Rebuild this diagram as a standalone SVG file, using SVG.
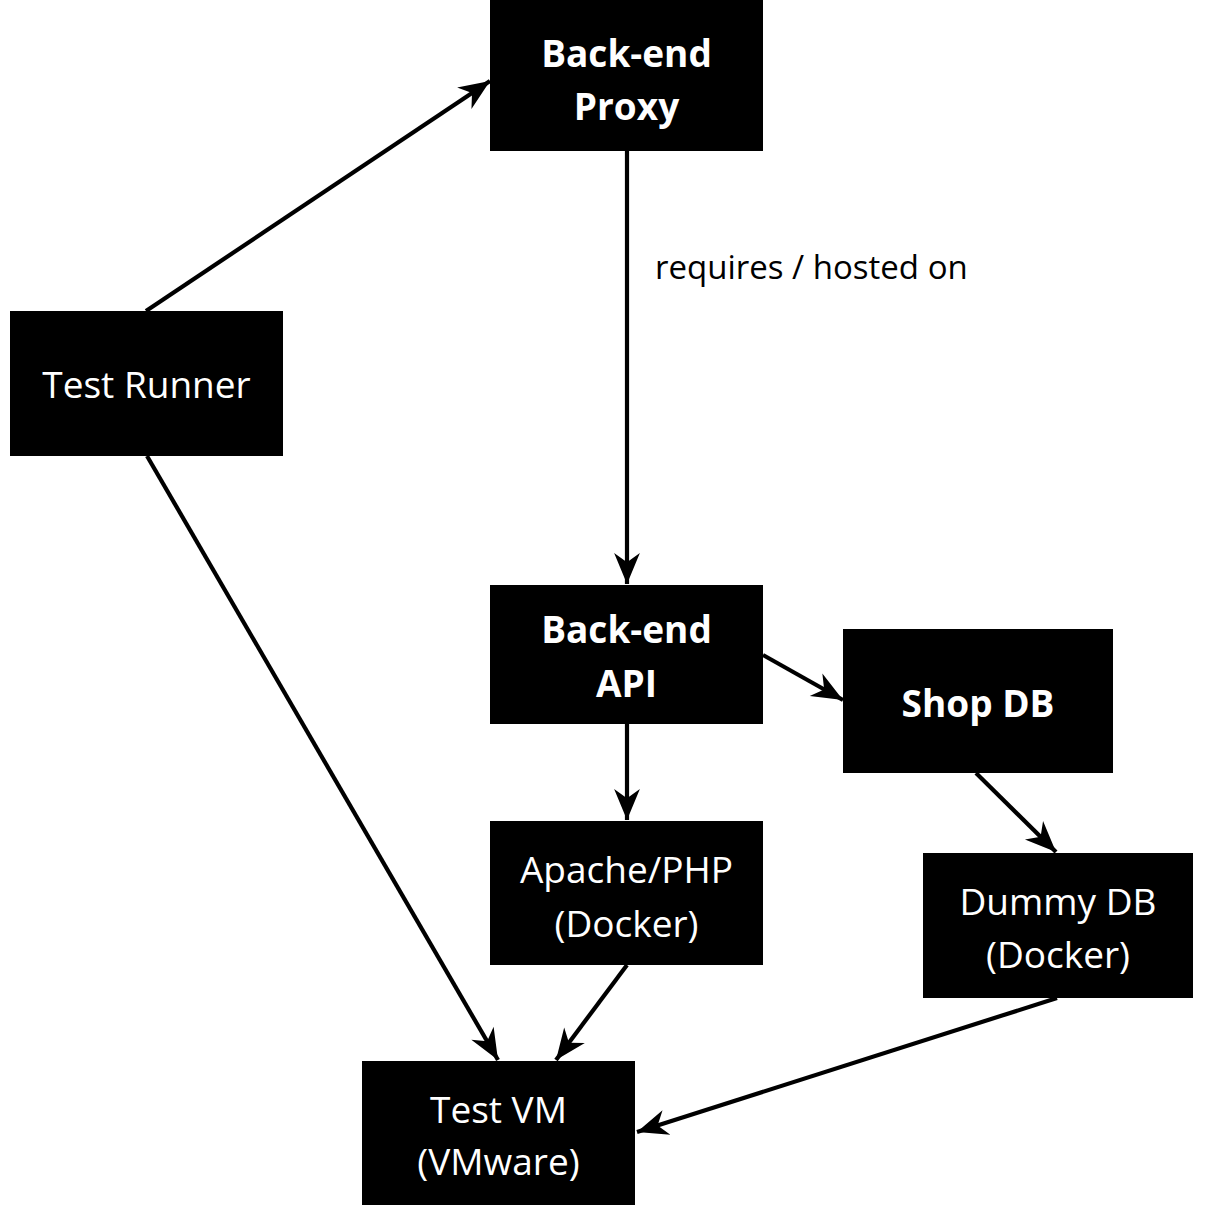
<svg xmlns="http://www.w3.org/2000/svg" width="1227" height="1205" viewBox="0 0 1227 1205">
<defs>
<style>
.box{fill:#000}
.t{font-family:"Open Sans","Liberation Sans",sans-serif;font-size:37px;fill:#fff;text-anchor:middle}
.b{font-weight:bold}
.lbl{font-family:"Open Sans","Liberation Sans",sans-serif;font-size:33px;fill:#000}
.c{stroke:#000;stroke-width:4.2;fill:none;marker-end:url(#ah)}
</style>
<marker id="ah" markerUnits="userSpaceOnUse" markerWidth="34" markerHeight="30" viewBox="-31 -14 33 28" refX="0" refY="0" orient="auto">
<path d="M0,0 L-30,-12.5 L-21,0 L-30,12.5 Z" fill="#000"/>
</marker>
</defs>
<rect width="1227" height="1205" fill="#fff"/>
<g id="connectors">
<line class="c" x1="146" y1="311" x2="490" y2="81"/>
<line class="c" x1="627" y1="151" x2="627" y2="584"/>
<line class="c" x1="763" y1="655" x2="843" y2="700"/>
<line class="c" x1="627" y1="724" x2="627" y2="820"/>
<line class="c" x1="976" y1="773" x2="1056" y2="852"/>
<line class="c" x1="147" y1="456" x2="498" y2="1060"/>
<line class="c" x1="627" y1="965" x2="556" y2="1060"/>
<line class="c" x1="1057" y1="998" x2="637" y2="1132"/>
<text class="lbl" x="655" y="279">requires / hosted on</text>
</g>
<g id="backend-proxy">
<rect class="box" x="490" y="0" width="273" height="151"/>
<text class="t b" x="626.5" y="67">Back-end</text>
<text class="t b" x="626.5" y="120">Proxy</text>
</g>
<g id="test-runner">
<rect class="box" x="10" y="311" width="273" height="145"/>
<text class="t" x="146.5" y="398">Test Runner</text>
</g>
<g id="backend-api">
<rect class="box" x="490" y="585" width="273" height="139"/>
<text class="t b" x="626.5" y="643">Back-end</text>
<text class="t b" x="626.5" y="697">API</text>
</g>
<g id="shop-db">
<rect class="box" x="843" y="629" width="270" height="144"/>
<text class="t b" x="978" y="717">Shop DB</text>
</g>
<g id="apache-php">
<rect class="box" x="490" y="821" width="273" height="144"/>
<text class="t" x="626.5" y="883">Apache/PHP</text>
<text class="t" x="626.5" y="937">(Docker)</text>
</g>
<g id="dummy-db">
<rect class="box" x="923" y="853" width="270" height="145"/>
<text class="t" x="1058" y="915">Dummy DB</text>
<text class="t" x="1058" y="968">(Docker)</text>
</g>
<g id="test-vm">
<rect class="box" x="362" y="1061" width="273" height="144"/>
<text class="t" x="498.5" y="1123">Test VM</text>
<text class="t" x="498.5" y="1175">(VMware)</text>
</g>
</svg>
